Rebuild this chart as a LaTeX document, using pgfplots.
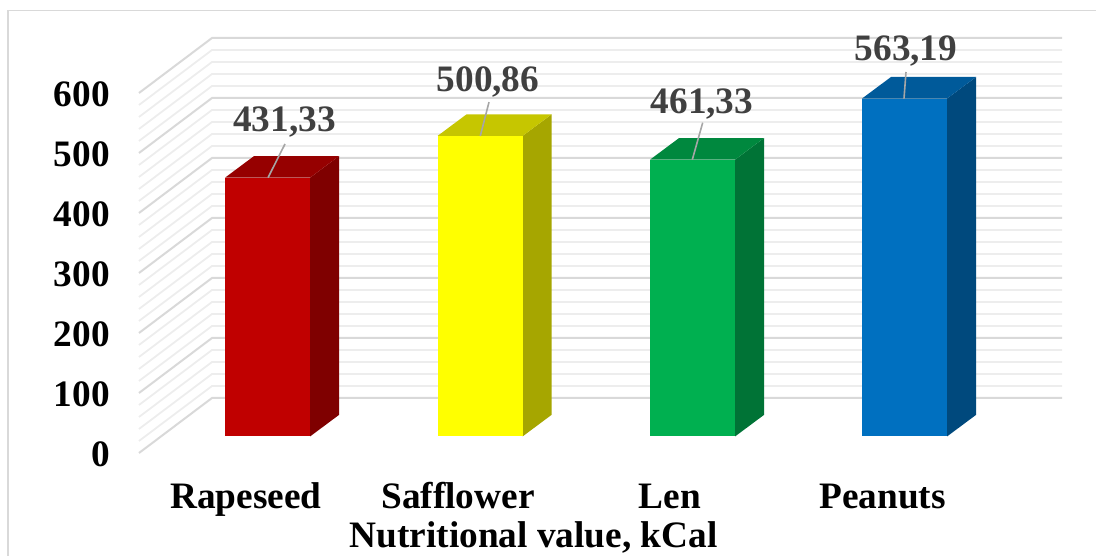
\documentclass[border=0pt]{standalone}
\usepackage{pgfplots}
\pgfplotsset{compat=1.18}
\usepackage{fontspec}
\setmainfont[Ligatures=NoCommon]{Liberation Serif}
\definecolor{gridmajor}{HTML}{D9D9D9}
\definecolor{gridminor}{HTML}{EDEDED}
\definecolor{leader}{HTML}{A6A6A6}
\definecolor{labeltext}{HTML}{404040}
\definecolor{redF}{HTML}{C00000}\definecolor{redT}{HTML}{960000}\definecolor{redS}{HTML}{7F0000}
\definecolor{yelF}{HTML}{FFFF00}\definecolor{yelT}{HTML}{C6C600}\definecolor{yelS}{HTML}{A6A600}
\definecolor{greF}{HTML}{00B050}\definecolor{greT}{HTML}{00883E}\definecolor{greS}{HTML}{007336}
\definecolor{bluF}{HTML}{0070C0}\definecolor{bluT}{HTML}{005A9A}\definecolor{bluS}{HTML}{00497D}
\begin{document}
\begin{tikzpicture}
\path[use as bounding box] (0,0) rectangle (1096pt,555pt);
\begin{axis}[
  scale only axis, width=1096pt, height=555pt,
  xmin=0, xmax=1096, ymin=-197.5, ymax=727.5,
  axis line style={draw=none}, major tick length=0pt, minor tick length=0pt,
  tick style={draw=none},
  xtick={246,458,670,882.5},
  xticklabels={Rapeseed,Safflower,Len,Peanuts},
  ytick={-27.5,72.5,172.5,272.5,372.5,472.5,572.5},
  yticklabels={0,100,200,300,400,500,600},
  tick label style={font=\fontsize{37.3}{37.3}\selectfont\bfseries, inner sep=0pt, text=black},
  xticklabel style={anchor=base, yshift=46.5pt},
  yticklabel style={anchor=base east, xshift=110pt, yshift=-14pt},
  xlabel={Nutritional value, kCal},
  xlabel style={font=\fontsize{37.3}{37.3}\selectfont\bfseries, inner sep=0pt,
                at={(axis cs:533.5,-197.5)}, anchor=base, yshift=7.7pt},
  no markers,
]
% chart frame, open on the right and at the bottom
\addplot[gridmajor, line width=1.6pt] coordinates {(8,-200) (8,710) (1100,710)};

% minor gridlines along the side wall and the back wall
\pgfplotsinvokeforeach{20,40,60,80,120,140,160,180,220,240,260,280,320,340,360,380,420,440,460,480,520,540,560,580}{
  \addplot[gridminor, line width=1.8pt] coordinates {(139,{#1-27.5}) (212,{#1+64.17}) (1062,{#1+64.17})};
}
% major gridlines
\pgfplotsinvokeforeach{0,100,200,300,400,500,600}{
  \addplot[gridmajor, line width=2pt] coordinates {(139,{#1-27.5}) (212,{#1+64.17}) (1062,{#1+64.17})};
}

% Rapeseed: 431.33
\addplot[fill=redS, draw=none] coordinates {(310,0) (339,36) (339,467.33) (310,431.33)} --cycle;
\addplot[fill=redT, draw=none] coordinates {(225,431.33) (254,467.33) (339,467.33) (310,431.33)} --cycle;
\addplot[fill=redF, draw=none] coordinates {(225,0) (310,0) (310,431.33) (225,431.33)} --cycle;
% Safflower: 500.86
\addplot[fill=yelS, draw=none] coordinates {(522.5,0) (551.5,36) (551.5,536.86) (522.5,500.86)} --cycle;
\addplot[fill=yelT, draw=none] coordinates {(437.5,500.86) (466.5,536.86) (551.5,536.86) (522.5,500.86)} --cycle;
\addplot[fill=yelF, draw=none] coordinates {(437.5,0) (522.5,0) (522.5,500.86) (437.5,500.86)} --cycle;
% Len: 461.33
\addplot[fill=greS, draw=none] coordinates {(735,0) (764,36) (764,497.33) (735,461.33)} --cycle;
\addplot[fill=greT, draw=none] coordinates {(650,461.33) (679,497.33) (764,497.33) (735,461.33)} --cycle;
\addplot[fill=greF, draw=none] coordinates {(650,0) (735,0) (735,461.33) (650,461.33)} --cycle;
% Peanuts: 563.19
\addplot[fill=bluS, draw=none] coordinates {(947,0) (976,36) (976,599.19) (947,563.19)} --cycle;
\addplot[fill=bluT, draw=none] coordinates {(862,563.19) (891,599.19) (976,599.19) (947,563.19)} --cycle;
\addplot[fill=bluF, draw=none] coordinates {(862,0) (947,0) (947,563.19) (862,563.19)} --cycle;

% leader lines from the value labels to the bar tops
\addplot[leader, line width=1.6pt] coordinates {(285,487.5) (268,431.33)};
\addplot[leader, line width=1.6pt] coordinates {(489,557.3) (480.3,500.86)};
\addplot[leader, line width=1.6pt] coordinates {(702.7,523) (692.3,461.33)};
\addplot[leader, line width=1.6pt] coordinates {(906,607.5) (904,563.19)};

% value labels
\tikzset{vallabel/.style={font=\fontsize{37.3}{37.3}\selectfont\bfseries, text=labeltext, anchor=base, inner sep=0pt}}
\node[vallabel] at (axis cs:284.5,507.5) {431,33};
\node[vallabel] at (axis cs:488,574.2) {500,86};
\node[vallabel] at (axis cs:702,537.5) {461,33};
\node[vallabel] at (axis cs:906,626.3) {563,19};
\end{axis}
\end{tikzpicture}
\end{document}
